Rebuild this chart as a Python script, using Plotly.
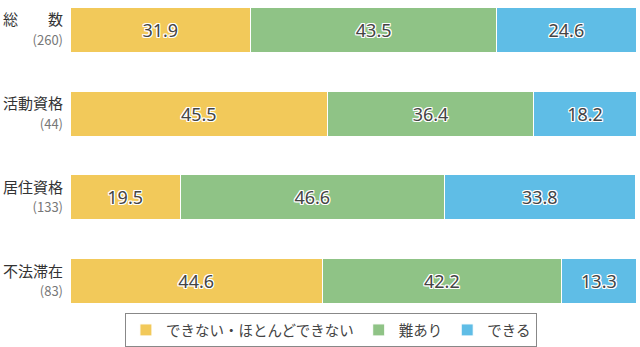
import plotly.graph_objects as go

categories = ["総　　数", "活動資格", "居住資格", "不法滞在"]
counts = ["260", "44", "133", "83"]
series_names = ["できない・ほとんどできない", "難あり", "できる"]
cannot = [31.9, 45.5, 19.5, 44.6]
difficult = [43.5, 36.4, 46.6, 42.2]
can = [24.6, 18.2, 33.8, 13.3]
colors = ["#f2c95a", "#8fc386", "#5fbde6"]

ticktext = [f"{c}<br><span style='font-size:13px;color:#777'>({n})</span>" for c, n in zip(categories, counts)]
ys = list(range(len(categories)))

halo = "-1px -1px 0 #fff, 1px -1px 0 #fff, -1px 1px 0 #fff, 1px 1px 0 #fff, 0 1px 0 #fff, 0 -1px 0 #fff, 1px 0 0 #fff, -1px 0 0 #fff"

fig = go.Figure()
for name, vals, col in zip(series_names, [cannot, difficult, can], colors):
    fig.add_trace(go.Bar(
        y=ys, x=vals, name=name, orientation="h",
        marker=dict(color=col, line=dict(color="white", width=1)),
        width=0.54,
        texttemplate="%{x:.1f}", textposition="inside", insidetextanchor="middle",
        textfont=dict(size=18, color="#444", family="Noto Sans", shadow=halo),
        constraintext="none",
        hoverinfo="skip",
    ))

fig.update_layout(
    barmode="stack",
    width=640, height=347,
    margin=dict(l=70, r=4, t=0, b=40),
    paper_bgcolor="white", plot_bgcolor="white",
    font=dict(family="Noto Sans CJK JP", color="#333", size=15),
    xaxis=dict(range=[0, 100], visible=False, fixedrange=True),
    yaxis=dict(range=[3.31, -0.358], tickmode="array", tickvals=ys, ticktext=ticktext,
               showgrid=False, zeroline=False, showline=False, ticks="",
               ticklabelstandoff=6, tickfont=dict(size=15, color="#333")),
    legend=dict(orientation="h", x=0.461, xanchor="center", y=-0.02, yanchor="top",
                bordercolor="#888", borderwidth=1, font=dict(size=14.5, color="#444"),
                traceorder="normal", itemwidth=30),
    showlegend=True,
)

fig.write_html("out.html")
